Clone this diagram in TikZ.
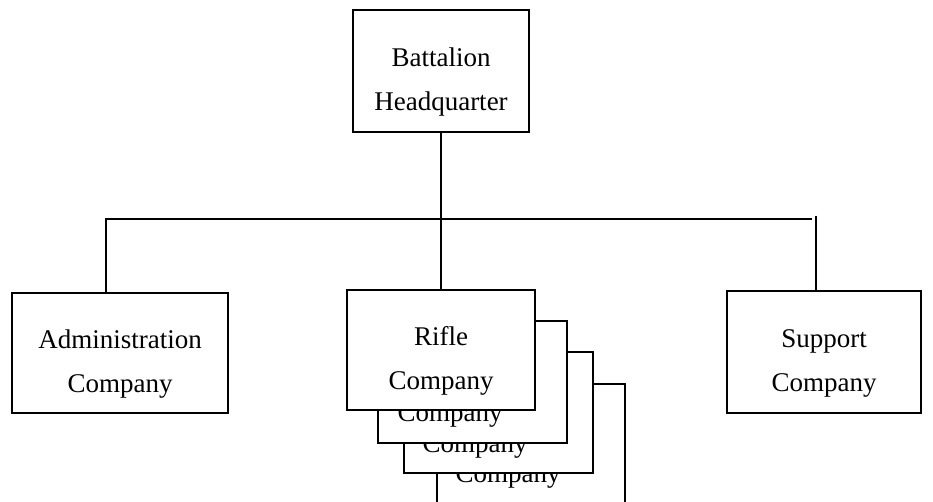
\documentclass[tikz,border=0pt]{standalone}
\usepackage{fontspec}
\setmainfont{Liberation Serif}
\begin{document}
\begin{tikzpicture}[x=1pt,y=-1pt,
  box/.style={draw=black,line width=1.6pt,fill=white,inner sep=0pt},
  txt/.style={inner sep=0pt,align=center,font=\fontsize{27}{44}\selectfont},
  lbl/.style={inner sep=0pt,anchor=base,font=\fontsize{27}{44}\selectfont},
  conn/.style={draw=black,line width=1.6pt}]
\useasboundingbox (0,0) rectangle (933,502);
\fill[white] (0,0) rectangle (933,502);
% headquarters
\node[box,minimum width=176pt,minimum height=122pt] (hq) at (441,71) {};
\node[txt] (hqt) at ([yshift=-11pt]hq.center) {Battalion\\Headquarter};
% side companies
\node[box,minimum width=216pt,minimum height=120pt] (adm) at (120,353) {};
\node[txt] (admt) at ([yshift=-11pt]adm.center) {Administration\\Company};
\node[box,minimum width=194pt,minimum height=122pt] (sup) at (824,352) {};
\node[txt] (supt) at ([yshift=-11pt]sup.center) {Support\\Company};
% stacked rifle companies (back to front)
\begin{scope}
\clip (0,0) rectangle (933,502);
\node[box,minimum width=188pt,minimum height=150pt,anchor=north west] (r4) at (436,383) {};
\end{scope}
\node[lbl] (t4) at (508,482) {Company};
\node[box,minimum width=189pt,minimum height=121pt,anchor=north west] (r3) at (403,351) {};
\node[lbl] (t3) at (475,452) {Company};
\node[box,minimum width=189pt,minimum height=122pt,anchor=north west] (r2) at (377,320) {};
\node[lbl] (t2) at (450,421) {Company};
\node[box,minimum width=188pt,minimum height=120pt] (rif) at (441,350) {};
\node[txt] (rift) at ([yshift=-11pt]rif.center) {Rifle\\Company};
% connectors
\coordinate (aL) at (106,219);
\coordinate (sR) at (816,216);
\draw[conn] (hq.south) -- (hq.south |- rif.north);
\draw[conn] (aL |- adm.north) -- (aL) -- (812,219);
\draw[conn] (sR) -- (sR |- sup.north);
\end{tikzpicture}
\end{document}
